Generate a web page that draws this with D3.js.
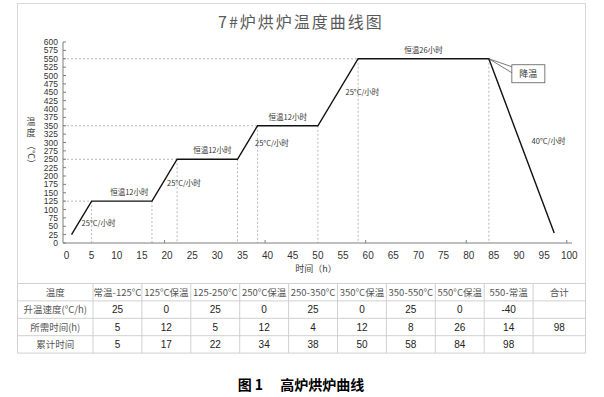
<!DOCTYPE html>
<html>
<head>
<meta charset="utf-8">
<script src="https://cdn.jsdelivr.net/npm/d3@7"></script>
<style>
  body { margin: 0; background: #fff; }
  svg { display: block; font-family: "Liberation Sans", Arial, sans-serif; }
  .cjk { font-family: "Noto Sans CJK SC", "Noto Sans", sans-serif; }
</style>
</head>
<body>
<svg id="chart" width="604" height="397"></svg>
<script>
'use strict';

// curve points: hours vs temperature
var hours = [1, 5, 17, 22, 34, 38, 50, 58, 84, 97];
var temps = [25, 125, 125, 250, 250, 350, 350, 550, 550, 30];

// text notes on the curve: [hour, temp, text]
var holdNotes = [[12.5, 125, '恒温12小时'], [29, 250, '恒温12小时'], [44, 350, '恒温12小时'], [71, 550, '恒温26小时']];
var rateNotes = [[3, 60, '25°C/小时'], [20, 180, '25°C/小时'], [37.5, 300, '25°C/小时'], [55.5, 450, '25°C/小时'], [92.5, 305, '40°C/小时']];

var yTicks = d3.range(0, 601, 25);
var xTicks = d3.range(0, 101, 5);

// table
var tableHead = ['温度', '常温-125°C', '125°C保温', '125-250°C', '250°C保温', '250-350°C', '350°C保温', '350-550°C', '550°C保温', '550-常温', '合计'];
var rateRow = ['升温速度(°C/h)', 25, 0, 25, 0, 25, 0, 25, 0, -40, ''];
var needRow = ['所需时间(h)', 5, 12, 5, 12, 4, 12, 8, 26, 14, 98];
var cumRow = ['累计时间', 5, 17, 22, 34, 38, 50, 58, 84, 98, ''];

var svg = d3.select('#chart');

var x = d3.scaleLinear().domain([0, 100]).range([66.5, 569.3]);
var y = d3.scaleLinear().domain([0, 600]).range([243, 42]);
var axisLeft = 63, axisRight = 572;

// chart frame
svg.append('rect')
    .attr('x', 17.5).attr('y', 3.5)
    .attr('width', 568).attr('height', 280)
    .attr('fill', 'none').attr('stroke', '#d9d9d9');

// title
svg.append('text')
    .attr('class', 'cjk')
    .attr('x', 301).attr('y', 28)
    .attr('text-anchor', 'middle')
    .attr('font-size', 16)
    .attr('letter-spacing', 2)
    .attr('fill', '#595959')
    .text('7#炉烘炉温度曲线图');

// guide lines from the curve corners
var corners = hours.map(function(h, i) { return [h, temps[i]]; }).slice(1, 9);
var guides = svg.append('g')
    .attr('stroke', '#a6a6a6')
    .attr('stroke-width', 0.8)
    .attr('stroke-dasharray', '2,2');
corners.forEach(function(c) {
    guides.append('line')
        .attr('x1', x(c[0])).attr('x2', x(c[0]))
        .attr('y1', y(c[1])).attr('y2', y(0));
});
[[5, 125], [22, 250], [38, 350], [58, 550]].forEach(function(c) {
    guides.append('line')
        .attr('x1', axisLeft).attr('x2', x(c[0]))
        .attr('y1', y(c[1])).attr('y2', y(c[1]));
});

// axes
var axisColor = '#7f7f7f';
svg.append('line')
    .attr('x1', axisLeft).attr('x2', axisLeft)
    .attr('y1', y(600)).attr('y2', y(0))
    .attr('stroke', axisColor);
svg.append('line')
    .attr('x1', axisLeft).attr('x2', axisRight)
    .attr('y1', y(0)).attr('y2', y(0))
    .attr('stroke', axisColor);

svg.append('g').selectAll('line')
    .data(yTicks)
    .enter().append('line')
    .attr('x1', axisLeft).attr('x2', axisLeft + 3)
    .attr('y1', function(d) { return y(d); })
    .attr('y2', function(d) { return y(d); })
    .attr('stroke', axisColor);

svg.append('g').selectAll('text')
    .data(yTicks)
    .enter().append('text')
    .attr('x', 58)
    .attr('y', function(d) { return y(d) + 3.1; })
    .attr('text-anchor', 'end')
    .attr('font-size', 8.5)
    .attr('fill', '#333')
    .text(function(d) { return d; });

svg.append('g').selectAll('line')
    .data([20, 40, 60, 80, 100])
    .enter().append('line')
    .attr('x1', function(d) { return x(d) - 2.5; })
    .attr('x2', function(d) { return x(d) - 2.5; })
    .attr('y1', y(0)).attr('y2', y(0) - 3)
    .attr('stroke', axisColor);

svg.append('g').selectAll('text')
    .data(xTicks)
    .enter().append('text')
    .attr('x', function(d) { return x(d); })
    .attr('y', 259)
    .attr('text-anchor', 'middle')
    .attr('font-size', 10)
    .attr('fill', '#333')
    .text(function(d) { return d; });

// axis titles
svg.append('text')
    .attr('class', 'cjk')
    .attr('x', 316).attr('y', 272)
    .attr('text-anchor', 'middle')
    .attr('font-size', 9)
    .attr('fill', '#404040')
    .text('时间（h）');

var yTitle = svg.append('g').attr('class', 'cjk').attr('fill', '#404040').attr('font-size', 9);
['温', '度'].forEach(function(ch, i) {
    yTitle.append('text')
        .attr('x', 31).attr('y', 125 + i * 11)
        .attr('text-anchor', 'middle')
        .text(ch);
});
yTitle.append('text')
    .attr('transform', 'translate(28,141) rotate(90)')
    .text('（°C）');

// the curve
svg.append('path')
    .datum(hours.map(function(h, i) { return [h, temps[i]]; }))
    .attr('fill', 'none')
    .attr('stroke', '#111')
    .attr('stroke-width', 1.4)
    .attr('d', d3.line()
        .x(function(d) { return x(d[0]); })
        .y(function(d) { return y(d[1]); }));

// notes
svg.append('g').selectAll('text')
    .data(holdNotes)
    .enter().append('text')
    .attr('class', 'cjk')
    .attr('x', function(d) { return x(d[0]); })
    .attr('y', function(d) { return y(d[1]) - 6; })
    .attr('text-anchor', 'middle')
    .attr('font-size', 7.5)
    .attr('fill', '#333')
    .text(function(d) { return d[2]; });

svg.append('g').selectAll('text')
    .data(rateNotes)
    .enter().append('text')
    .attr('class', 'cjk')
    .attr('x', function(d) { return x(d[0]); })
    .attr('y', function(d) { return y(d[1]) + 3; })
    .attr('font-size', 7.5)
    .attr('fill', '#333')
    .text(function(d) { return d[2]; });

// callout for cooling
var cx = x(hours[8]), cy = y(temps[8]);
svg.append('path')
    .attr('d', 'M' + (cx + 23) + ',' + (cy + 8) + 'L' + cx + ',' + cy + 'L' + (cx + 23) + ',' + (cy + 14))
    .attr('fill', 'none')
    .attr('stroke', '#595959')
    .attr('stroke-width', 0.8);
svg.append('rect')
    .attr('x', cx + 23).attr('y', cy + 6)
    .attr('width', 33).attr('height', 18)
    .attr('fill', '#fff')
    .attr('stroke', '#595959')
    .attr('stroke-width', 0.8);
svg.append('text')
    .attr('class', 'cjk')
    .attr('x', cx + 39.5).attr('y', cy + 18)
    .attr('text-anchor', 'middle')
    .attr('font-size', 9)
    .attr('fill', '#333')
    .text('降温');

// table
var rows = [tableHead, rateRow, needRow, cumRow];
var tableTop = 283.5, rowH = 17.4;
var colEdges = [17.5, 93].concat(d3.range(1, 10).map(function(i) { return 93 + i * 48.9; })).concat([585.5]);

var table = svg.append('g');
rows.forEach(function(row, r) {
    row.forEach(function(cell, c) {
        var isLabel = r === 0 || c === 0;
        table.append('text')
            .attr('class', isLabel ? 'cjk' : null)
            .attr('x', (colEdges[c] + colEdges[c + 1]) / 2)
            .attr('y', tableTop + r * rowH + rowH / 2 + 3.5)
            .attr('text-anchor', 'middle')
            .attr('font-size', isLabel ? 9.5 : 10)
            .attr('fill', isLabel ? '#555' : '#222')
            .text(cell);
    });
});
d3.range(rows.length + 1).forEach(function(r) {
    table.append('line')
        .attr('x1', colEdges[0]).attr('x2', colEdges[colEdges.length - 1])
        .attr('y1', tableTop + r * rowH).attr('y2', tableTop + r * rowH)
        .attr('stroke', '#d0d0d0');
});
colEdges.forEach(function(e) {
    table.append('line')
        .attr('x1', e).attr('x2', e)
        .attr('y1', tableTop).attr('y2', tableTop + rows.length * rowH)
        .attr('stroke', '#d0d0d0');
});

// caption
svg.append('text')
    .attr('class', 'cjk')
    .attr('x', 301).attr('y', 390)
    .attr('text-anchor', 'middle')
    .attr('font-size', 14)
    .attr('font-weight', 'bold')
    .attr('fill', '#000')
    .attr('xml:space', 'preserve')
    .text('图 1　 高炉烘炉曲线');
</script>
</body>
</html>
